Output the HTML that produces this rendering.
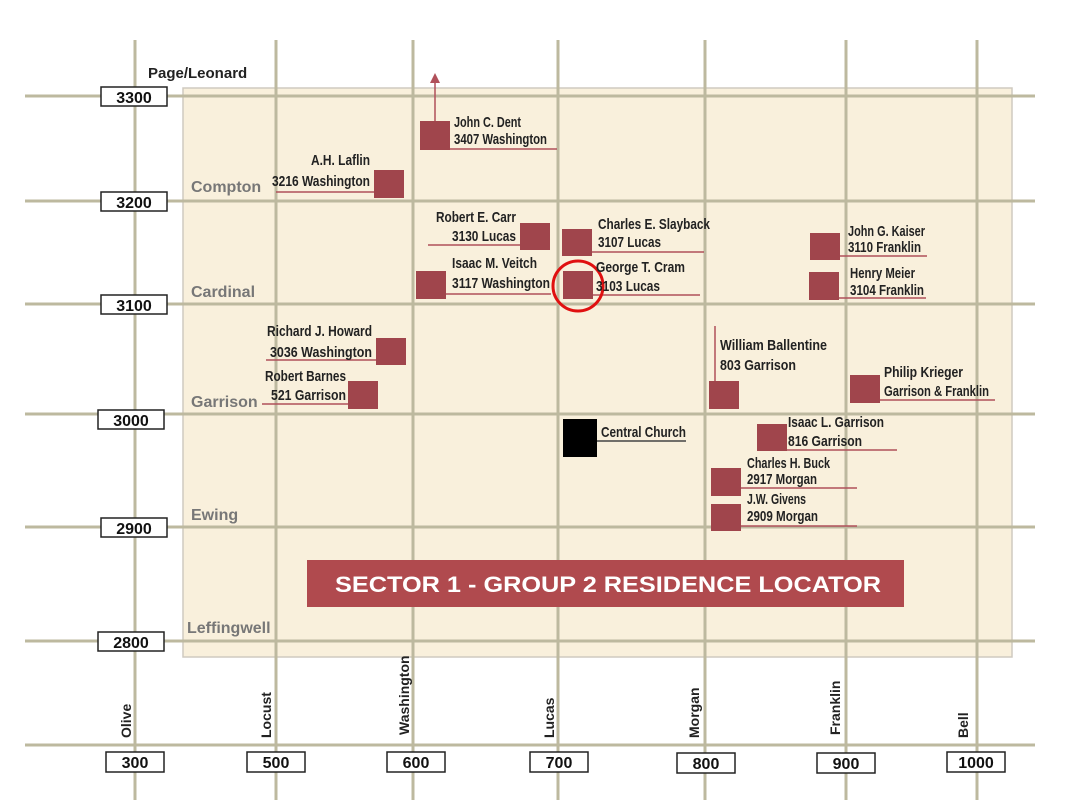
<!DOCTYPE html>
<html><head><meta charset="utf-8"><style>
html,body{margin:0;padding:0;background:#fff;}
svg{display:block;}
text{font-family:"Liberation Sans Narrow","Liberation Sans",sans-serif;}
.n{font-size:15px;fill:#222;font-weight:bold;}
.s{font-size:16px;fill:#777;font-weight:bold;}
.b{font-size:16px;fill:#111;}
.v{font-size:14px;fill:#222;font-weight:bold;}
</style></head><body>
<svg width="1067" height="800" viewBox="0 0 1067 800" xmlns="http://www.w3.org/2000/svg">
<rect x="0" y="0" width="1067" height="800" fill="#fff"/>
<rect x="183" y="88" width="829" height="569" fill="#f9f0dc" stroke="#cfcac0" stroke-width="1.5"/>
<g stroke="#bdb99f" stroke-width="3">
<line x1="135" y1="40" x2="135" y2="800"/><line x1="276" y1="40" x2="276" y2="800"/>
<line x1="413" y1="40" x2="413" y2="800"/><line x1="558" y1="40" x2="558" y2="800"/>
<line x1="705" y1="40" x2="705" y2="800"/><line x1="846" y1="40" x2="846" y2="800"/>
<line x1="977" y1="40" x2="977" y2="800"/>
<line x1="25" y1="96" x2="1035" y2="96"/><line x1="25" y1="201" x2="1035" y2="201"/>
<line x1="25" y1="304" x2="1035" y2="304"/><line x1="25" y1="414" x2="1035" y2="414"/>
<line x1="25" y1="527" x2="1035" y2="527"/><line x1="25" y1="641" x2="1035" y2="641"/>
<line x1="25" y1="745" x2="1035" y2="745"/>
</g>
<g fill="#fff" stroke="#222" stroke-width="1.5">
<rect x="101" y="87" width="66" height="19"/><rect x="101" y="192" width="66" height="19"/>
<rect x="101" y="295" width="66" height="19"/><rect x="98" y="410" width="66" height="19"/>
<rect x="101" y="518" width="66" height="19"/><rect x="98" y="632" width="66" height="19"/>
<rect x="106" y="752" width="58" height="20"/><rect x="247" y="752" width="58" height="20"/>
<rect x="387" y="752" width="58" height="20"/><rect x="530" y="752" width="58" height="20"/>
<rect x="677" y="753" width="58" height="20"/><rect x="817" y="753" width="58" height="20"/>
<rect x="947" y="752" width="58" height="20"/>
</g>
<g class="b" text-anchor="middle" font-weight="bold">
<text x="134" y="103">3300</text><text x="134" y="208">3200</text><text x="134" y="311">3100</text>
<text x="131" y="426">3000</text><text x="134" y="534">2900</text><text x="131" y="648">2800</text>
<text x="135" y="768">300</text><text x="276" y="768">500</text><text x="416" y="768">600</text>
<text x="559" y="768">700</text><text x="706" y="769">800</text><text x="846" y="769">900</text>
<text x="976" y="768">1000</text>
</g>
<text x="148" y="78" class="v" style="font-size:15px">Page/Leonard</text>
<g class="s"><text x="191" y="192">Compton</text><text x="191" y="297">Cardinal</text>
<text x="191" y="407">Garrison</text><text x="191" y="520">Ewing</text><text x="187" y="633">Leffingwell</text></g>
<g class="v">
<text transform="translate(131,738) rotate(-90)">Olive</text>
<text transform="translate(271,738) rotate(-90)">Locust</text>
<text transform="translate(409,735) rotate(-90)">Washington</text>
<text transform="translate(554,738) rotate(-90)">Lucas</text>
<text transform="translate(699,738) rotate(-90)">Morgan</text>
<text transform="translate(840,735) rotate(-90)">Franklin</text>
<text transform="translate(968,738) rotate(-90)">Bell</text>
</g>
<g stroke="#b0505a" stroke-width="1.5">
<line x1="450" y1="149" x2="557" y2="149"/><line x1="276" y1="192" x2="374" y2="192"/>
<line x1="428" y1="245" x2="520" y2="245"/><line x1="592" y1="252" x2="704" y2="252"/>
<line x1="446" y1="294" x2="551" y2="294"/><line x1="593" y1="295" x2="700" y2="295"/>
<line x1="840" y1="256" x2="927" y2="256"/><line x1="839" y1="298" x2="926" y2="298"/>
<line x1="266" y1="360" x2="376" y2="360"/><line x1="262" y1="404" x2="348" y2="404"/>
<line x1="715" y1="326" x2="715" y2="382"/><line x1="880" y1="400" x2="995" y2="400"/>
<line x1="787" y1="450" x2="897" y2="450"/><line x1="741" y1="488" x2="857" y2="488"/>
<line x1="741" y1="526" x2="857" y2="526"/><line x1="435" y1="121" x2="435" y2="82"/>
</g>
<polygon points="430,83 440,83 435,73" fill="#b0505a"/>
<line x1="597" y1="441" x2="686" y2="441" stroke="#444" stroke-width="1.5"/>
<g fill="#a0454c">
<rect x="420" y="121" width="30" height="29"/><rect x="374" y="170" width="30" height="28"/>
<rect x="520" y="223" width="30" height="27"/><rect x="562" y="229" width="30" height="27"/>
<rect x="416" y="271" width="30" height="28"/><rect x="563" y="271" width="30" height="28"/>
<rect x="810" y="233" width="30" height="27"/><rect x="809" y="272" width="30" height="28"/>
<rect x="376" y="338" width="30" height="27"/><rect x="348" y="381" width="30" height="28"/>
<rect x="709" y="381" width="30" height="28"/><rect x="850" y="375" width="30" height="28"/>
<rect x="757" y="424" width="30" height="27"/><rect x="711" y="468" width="30" height="28"/>
<rect x="711" y="504" width="30" height="27"/>
</g>
<rect x="563" y="419" width="34" height="38" fill="#000"/>
<circle cx="578" cy="286" r="25" fill="none" stroke="#e01010" stroke-width="3"/>
<g class="n">
<text x="454" y="127" textLength="67" lengthAdjust="spacingAndGlyphs">John C. Dent</text><text x="454" y="144" textLength="93" lengthAdjust="spacingAndGlyphs">3407 Washington</text>
<text x="370" y="165" text-anchor="end" textLength="59" lengthAdjust="spacingAndGlyphs">A.H. Laflin</text><text x="370" y="186" text-anchor="end" textLength="98" lengthAdjust="spacingAndGlyphs">3216 Washington</text>
<text x="516" y="222" text-anchor="end" textLength="80" lengthAdjust="spacingAndGlyphs">Robert E. Carr</text><text x="516" y="241" text-anchor="end" textLength="64" lengthAdjust="spacingAndGlyphs">3130 Lucas</text>
<text x="598" y="229" textLength="112" lengthAdjust="spacingAndGlyphs">Charles E. Slayback</text><text x="598" y="247" textLength="63" lengthAdjust="spacingAndGlyphs">3107 Lucas</text>
<text x="452" y="268" textLength="85" lengthAdjust="spacingAndGlyphs">Isaac M. Veitch</text><text x="452" y="288" textLength="98" lengthAdjust="spacingAndGlyphs">3117 Washington</text>
<text x="596" y="272" textLength="89" lengthAdjust="spacingAndGlyphs">George T. Cram</text><text x="596" y="291" textLength="64" lengthAdjust="spacingAndGlyphs">3103 Lucas</text>
<text x="848" y="236" textLength="77" lengthAdjust="spacingAndGlyphs">John G. Kaiser</text><text x="848" y="252" textLength="73" lengthAdjust="spacingAndGlyphs">3110 Franklin</text>
<text x="850" y="278" textLength="65" lengthAdjust="spacingAndGlyphs">Henry Meier</text><text x="850" y="295" textLength="74" lengthAdjust="spacingAndGlyphs">3104 Franklin</text>
<text x="372" y="336" text-anchor="end" textLength="105" lengthAdjust="spacingAndGlyphs">Richard J. Howard</text><text x="372" y="357" text-anchor="end" textLength="102" lengthAdjust="spacingAndGlyphs">3036 Washington</text>
<text x="346" y="381" text-anchor="end" textLength="81" lengthAdjust="spacingAndGlyphs">Robert Barnes</text><text x="346" y="400" text-anchor="end" textLength="75" lengthAdjust="spacingAndGlyphs">521 Garrison</text>
<text x="720" y="350" textLength="107" lengthAdjust="spacingAndGlyphs">William Ballentine</text><text x="720" y="370" textLength="76" lengthAdjust="spacingAndGlyphs">803 Garrison</text>
<text x="884" y="377" textLength="79" lengthAdjust="spacingAndGlyphs">Philip Krieger</text><text x="884" y="396" textLength="105" lengthAdjust="spacingAndGlyphs">Garrison &amp; Franklin</text>
<text x="601" y="437" textLength="85" lengthAdjust="spacingAndGlyphs">Central Church</text>
<text x="788" y="427" textLength="96" lengthAdjust="spacingAndGlyphs">Isaac L. Garrison</text><text x="788" y="446" textLength="74" lengthAdjust="spacingAndGlyphs">816 Garrison</text>
<text x="747" y="468" textLength="83" lengthAdjust="spacingAndGlyphs">Charles H. Buck</text><text x="747" y="484" textLength="70" lengthAdjust="spacingAndGlyphs">2917 Morgan</text>
<text x="747" y="504" textLength="59" lengthAdjust="spacingAndGlyphs">J.W. Givens</text><text x="747" y="521" textLength="71" lengthAdjust="spacingAndGlyphs">2909 Morgan</text>
</g>
<rect x="307" y="560" width="597" height="47" fill="#b04a4e"/>
<text x="608" y="592" text-anchor="middle" textLength="546" lengthAdjust="spacingAndGlyphs" style="font-family:'Liberation Sans',sans-serif;font-size:22px;font-weight:bold;fill:#fff">SECTOR 1 - GROUP 2 RESIDENCE LOCATOR</text>
</svg>
</body></html>
